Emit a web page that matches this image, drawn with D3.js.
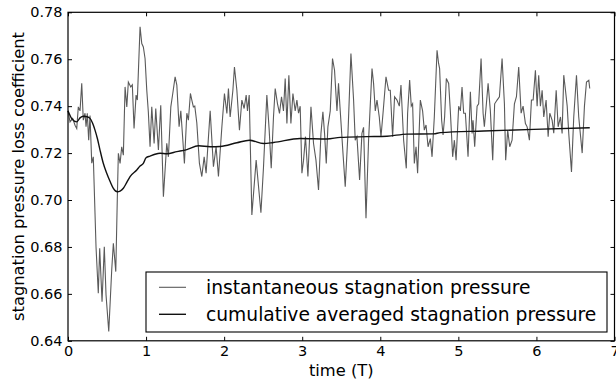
<!DOCTYPE html>
<html><head><meta charset="utf-8">
<script src="https://cdn.jsdelivr.net/npm/d3@7"></script>
<style>body{margin:0;background:#fff}svg{display:block}text{font-family:"DejaVu Sans",sans-serif;fill:#000}</style>
</head><body><svg id="c" width="616" height="382"></svg>
<script>
// instantaneous stagnation pressure loss coefficient
const instT = [0,0.026,0.060,0.090,0.112,0.132,0.154,0.176,0.196,0.218,0.231,0.247,0.265,0.282,0.304,0.324,0.359,0.388,0.406,0.436,0.465,0.487,0.522,0.560,0.581,0.612,0.632,0.645,0.667,0.688,0.709,0.731,0.753,0.773,0.804,0.824,0.846,0.872,0.888,0.923,0.945,0.965,0.987,1.009,1.029,1.051,1.073,1.103,1.124,1.158,1.188,1.222,1.265,1.286,1.317,1.342,1.372,1.394,1.423,1.445,1.471,1.491,1.522,1.542,1.568,1.586,1.606,1.624,1.650,1.683,1.714,1.744,1.769,1.821,1.863,1.897,1.927,1.971,2.004,2.035,2.055,2.077,2.112,2.132,2.163,2.196,2.227,2.256,2.282,2.299,2.321,2.355,2.410,2.471,2.504,2.547,2.577,2.603,2.632,2.654,2.683,2.709,2.735,2.760,2.782,2.804,2.829,2.855,2.881,2.910,2.932,2.953,2.974,2.996,3.017,3.042,3.073,3.112,3.145,3.176,3.209,3.240,3.265,3.286,3.308,3.329,3.359,3.388,3.414,3.445,3.465,3.487,3.522,3.551,3.586,3.624,3.658,3.679,3.701,3.735,3.765,3.786,3.817,3.850,3.894,3.914,3.936,3.958,3.987,4.009,4.035,4.073,4.106,4.128,4.158,4.183,4.214,4.244,4.265,4.299,4.333,4.350,4.376,4.397,4.414,4.436,4.458,4.478,4.513,4.542,4.564,4.586,4.612,4.641,4.663,4.692,4.727,4.747,4.760,4.786,4.804,4.824,4.846,4.876,4.897,4.927,4.949,4.971,5.004,5.026,5.047,5.068,5.090,5.124,5.154,5.176,5.188,5.209,5.240,5.260,5.291,5.317,5.333,5.359,5.381,5.410,5.440,5.465,5.496,5.526,5.560,5.590,5.606,5.632,5.658,5.688,5.718,5.744,5.773,5.804,5.829,5.859,5.881,5.910,5.936,5.958,5.987,6.009,6.029,6.051,6.073,6.094,6.124,6.150,6.171,6.201,6.222,6.253,6.278,6.308,6.329,6.350,6.372,6.394,6.414,6.449,6.478,6.513,6.542,6.586,6.615,6.641,6.671,6.683];
const instV = [0.738,0.7333,0.7348,0.7319,0.7305,0.7397,0.738,0.7497,0.734,0.737,0.7312,0.737,0.7255,0.736,0.7157,0.7184,0.680,0.6603,0.6794,0.6567,0.6801,0.6596,0.644,0.6702,0.6816,0.6695,0.7014,0.7199,0.7156,0.7227,0.7191,0.7482,0.7397,0.7503,0.7482,0.7491,0.7305,0.7447,0.7426,0.7738,0.7667,0.7652,0.7603,0.7468,0.7375,0.7227,0.7397,0.7241,0.739,0.7213,0.7404,0.7014,0.7242,0.7184,0.7397,0.7454,0.7525,0.749,0.7312,0.738,0.7255,0.7156,0.737,0.734,0.7454,0.7426,0.7397,0.740,0.7328,0.7157,0.710,0.7184,0.7114,0.738,0.7142,0.7227,0.710,0.7312,0.7454,0.7369,0.7475,0.7354,0.7468,0.7567,0.7468,0.7298,0.7426,0.739,0.7447,0.738,0.7447,0.6936,0.717,0.6946,0.714,0.7447,0.7298,0.7135,0.7354,0.7475,0.7411,0.7369,0.744,0.738,0.7518,0.7326,0.7532,0.7326,0.7454,0.738,0.7426,0.737,0.740,0.7114,0.717,0.727,0.710,0.7397,0.7241,0.717,0.7043,0.7284,0.7376,0.7284,0.7156,0.7312,0.738,0.7603,0.7553,0.738,0.7497,0.738,0.720,0.7057,0.7284,0.7624,0.7426,0.7255,0.727,0.7085,0.7284,0.731,0.6922,0.7255,0.756,0.7497,0.738,0.7426,0.7354,0.727,0.737,0.7525,0.7468,0.7468,0.727,0.744,0.7426,0.740,0.749,0.7255,0.7135,0.737,0.7511,0.740,0.741,0.7156,0.7227,0.7114,0.7426,0.738,0.7298,0.732,0.7227,0.7262,0.7184,0.7354,0.7638,0.7582,0.756,0.734,0.7277,0.7354,0.7518,0.7497,0.738,0.7184,0.7255,0.717,0.740,0.738,0.7482,0.737,0.737,0.7184,0.7461,0.7284,0.734,0.7227,0.740,0.741,0.7603,0.737,0.7312,0.741,0.7497,0.738,0.717,0.741,0.7426,0.744,0.7603,0.741,0.717,0.7298,0.7227,0.7255,0.741,0.744,0.7567,0.737,0.740,0.7326,0.7312,0.7255,0.7426,0.7426,0.7553,0.740,0.7532,0.740,0.7468,0.7354,0.7426,0.727,0.737,0.734,0.7285,0.7468,0.7312,0.7354,0.7284,0.7532,0.7468,0.740,0.7284,0.712,0.7354,0.7532,0.7354,0.720,0.740,0.7503,0.751,0.7475];
// cumulative averaged stagnation pressure loss coefficient
const cumT = [0,0.051,0.112,0.154,0.196,0.244,0.282,0.314,0.346,0.378,0.410,0.449,0.496,0.538,0.581,0.632,0.667,0.709,0.753,0.795,0.881,0.923,0.965,1.0,1.051,1.115,1.179,1.265,1.394,1.522,1.671,1.821,1.949,2.163,2.324,2.504,2.632,2.974,3.317,3.487,3.829,4.086,4.342,4.683,4.769,5.324,5.965,6.683];
const cumV = [0.738,0.7345,0.7333,0.735,0.7357,0.7355,0.7348,0.7328,0.7298,0.726,0.7213,0.716,0.7114,0.708,0.705,0.7035,0.7038,0.705,0.7075,0.710,0.7128,0.7145,0.7156,0.718,0.7187,0.7195,0.7199,0.7197,0.7206,0.7215,0.7231,0.7227,0.7228,0.7244,0.7255,0.7241,0.7245,0.7262,0.726,0.7267,0.727,0.7272,0.7281,0.7282,0.7287,0.7294,0.7301,0.7308];
const xTicks = [0,1,2,3,4,5,6,7];
const yTicks = [0.64,0.66,0.68,0.70,0.72,0.74,0.76,0.78];
const legendLabels = ["instantaneous stagnation pressure","cumulative averaged stagnation pressure"];
const xLabel = "time (T)";
const yLabel = "stagnation pressure loss coefficient";

const L=68, R=614.5, T=12.3, B=340.8;
const svg = d3.select("#c");
const x = d3.scaleLinear().domain([0,7]).range([L,R]);
const y = d3.scaleLinear().domain([0.64,0.78]).range([B,T]);

const inst = instT.map((t,i)=>[t,instV[i]]);
const cum = cumT.map((t,i)=>[t,cumV[i]]);

svg.append("path").datum(inst)
  .attr("d", d3.line().x(d=>x(d[0])).y(d=>y(d[1])))
  .attr("fill","none").attr("stroke","#5a5a5a").attr("stroke-width",1.1);
svg.append("path").datum(cum)
  .attr("d", d3.line().curve(d3.curveMonotoneX).x(d=>x(d[0])).y(d=>y(d[1])))
  .attr("fill","none").attr("stroke","#111").attr("stroke-width",1.4);

// axes with inward ticks on all four sides
const tl = 4;
const fmtY = d3.format(".2f");
const gB = svg.append("g").attr("transform",`translate(0,${B})`)
  .call(d3.axisBottom(x).tickValues(xTicks).tickSize(-tl).tickPadding(5).tickFormat(d3.format("d")));
const gT = svg.append("g").attr("transform",`translate(0,${T})`)
  .call(d3.axisTop(x).tickValues(xTicks).tickSize(-tl).tickFormat(""));
const gL = svg.append("g").attr("transform",`translate(${L},0)`)
  .call(d3.axisLeft(y).tickValues(yTicks).tickSize(-tl).tickPadding(5.5).tickFormat(fmtY));
const gR = svg.append("g").attr("transform",`translate(${R},0)`)
  .call(d3.axisRight(y).tickValues(yTicks).tickSize(-tl).tickFormat(""));
[gB,gT,gL,gR].forEach(g=>{
  g.select(".domain").remove();
  g.selectAll(".tick line").attr("stroke","#000").attr("stroke-width",1);
  g.selectAll("text").attr("font-family","DejaVu Sans").attr("font-size",14.5).attr("fill","#000");
});
svg.append("rect").attr("x",L).attr("y",T).attr("width",R-L).attr("height",B-T)
  .attr("fill","none").attr("stroke","#000").attr("stroke-width",1.2);

svg.append("text").attr("x",(L+R)/2).attr("y",375.5).attr("text-anchor","middle")
  .attr("font-size",16.3).text(xLabel);
svg.append("text").attr("transform",`translate(23.5,${(T+B)/2}) rotate(-90)`).attr("text-anchor","middle")
  .attr("font-size",16.3).text(yLabel);

// legend
const lg = svg.append("g");
lg.append("rect").attr("x",146).attr("y",272).attr("width",461).attr("height",60)
  .attr("fill","#fff").attr("stroke","#000").attr("stroke-width",1.1);
const lcol = ["#5a5a5a","#111"], lw=[1.1,1.4], ly=[287.3,314.3];
legendLabels.forEach((s,i)=>{
  lg.append("line").attr("x1",159).attr("x2",186).attr("y1",ly[i]).attr("y2",ly[i])
    .attr("stroke",lcol[i]).attr("stroke-width",lw[i]);
  lg.append("text").attr("x",206).attr("y",ly[i]+6.5).attr("font-size",18.7).text(s);
});
</script></body></html>
